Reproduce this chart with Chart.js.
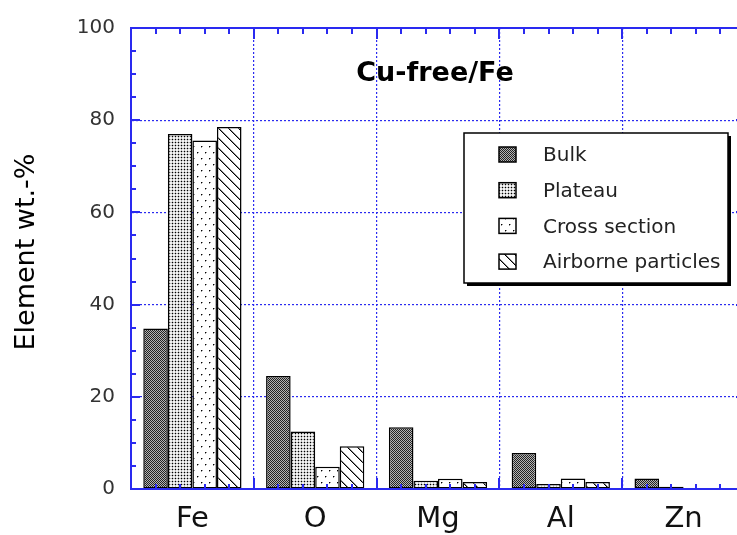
<!DOCTYPE html>
<html>
<head>
<meta charset="utf-8">
<script src="https://cdn.jsdelivr.net/npm/chart.js@4/dist/chart.umd.min.js"></script>
<style>
  html, body { margin: 0; padding: 0; background: #fff; overflow: hidden; }
  #wrap { width: 760px; height: 535px; }
</style>
</head>
<body>
<div id="wrap"><canvas id="c" width="760" height="535"></canvas></div>
<script>
// ---- data ----
const categories = ['Fe', 'O', 'Mg', 'Al', 'Zn'];
const seriesNames = ['Bulk', 'Plateau', 'Cross section', 'Airborne particles'];
const bulk = [34.8, 24.5, 13.4, 7.8, 2.3];
const plateau = [77.0, 12.5, 1.8, 1.1, 0.5];
const crossSection = [75.6, 4.8, 2.2, 2.3, 0];
const airborne = [78.5, 9.3, 1.5, 1.5, 0];
const yMin = 0, yMax = 100, yStep = 20, yMinorStep = 5;
const chartTitle = 'Cu-free/Fe';
const yTitle = 'Element wt.-%';

const BLUE = '#2a2af0';

function makePattern(w, h, draw) {
  const c = document.createElement('canvas');
  c.width = w; c.height = h;
  const g = c.getContext('2d');
  draw(g, w, h);
  return g.createPattern(c, 'repeat');
}
const patBulk = makePattern(2, 2, (g) => {
  g.fillStyle = '#b4b4b4'; g.fillRect(0, 0, 2, 2);
  g.fillStyle = '#222'; g.fillRect(0, 0, 1, 1); g.fillRect(1, 1, 1, 1);
});
const patPlateau = makePattern(3, 3, (g) => {
  g.fillStyle = '#f4f4f4'; g.fillRect(0, 0, 3, 3);
  g.fillStyle = '#bdbdbd';
  g.fillRect(0, 1, 1, 1); g.fillRect(2, 1, 1, 1); g.fillRect(1, 0, 1, 1); g.fillRect(1, 2, 1, 1);
  g.fillStyle = '#000'; g.fillRect(1, 1, 1, 1);
});
const patCross = makePattern(8, 12, (g) => {
  g.fillStyle = '#fff'; g.fillRect(0, 0, 8, 12);
  g.fillStyle = '#000'; g.fillRect(1, 2, 1, 1); g.fillRect(5, 8, 1, 1);
  g.fillStyle = '#999'; g.fillRect(2, 2, 1, 1); g.fillRect(6, 8, 1, 1);
  g.fillRect(1, 3, 1, 1); g.fillRect(5, 9, 1, 1);
});
const patAir = makePattern(10, 10, (g) => {
  g.fillStyle = '#fff'; g.fillRect(0, 0, 10, 10);
  for (let i = 0; i < 10; i++) {
    g.fillStyle = '#000'; g.fillRect(i, i, 1, 1);
    g.fillStyle = '#888'; g.fillRect((i + 1) % 10, i, 1, 1);
  }
});
const patterns = [patBulk, patPlateau, patCross, patAir];
const seriesValues = [bulk, plateau, crossSection, airborne];

const decor = {
  id: 'decor',
  afterDatasetsDraw(chart) {
    const { ctx, chartArea: a, scales: { x, y } } = chart;
    ctx.save();
    ctx.strokeStyle = BLUE;
    ctx.lineWidth = 2;
    ctx.beginPath();
    ctx.rect(a.left, a.top, a.right - a.left, a.bottom - a.top);
    ctx.stroke();
    ctx.beginPath();
    for (let v = yMin; v <= yMax; v += yMinorStep) {
      const py = Math.round(y.getPixelForValue(v));
      const len = (v % yStep === 0) ? 9 : 5;
      ctx.moveTo(a.left, py); ctx.lineTo(a.left + len, py);
      ctx.moveTo(a.right, py); ctx.lineTo(a.right - len, py);
    }
    for (let i = 1; i < categories.length; i++) {
      const px = Math.round((x.getPixelForValue(i - 1) + x.getPixelForValue(i)) / 2);
      ctx.moveTo(px, a.bottom); ctx.lineTo(px, a.bottom - 11);
      ctx.moveTo(px, a.top); ctx.lineTo(px, a.top + 11);
    }
    chart.data.datasets.forEach((ds, di) => {
      chart.getDatasetMeta(di).data.forEach((el) => {
        const px = Math.round(el.x);
        ctx.moveTo(px, a.bottom); ctx.lineTo(px, a.bottom - 5);
        ctx.moveTo(px, a.top); ctx.lineTo(px, a.top + 6);
      });
    });
    ctx.stroke();
    ctx.restore();
  },
  afterDraw(chart) {
    const { ctx } = chart;
    ctx.save();
    // chart title
    ctx.fillStyle = '#000';
    ctx.font = 'bold 27px "DejaVu Sans"';
    ctx.textAlign = 'center';
    ctx.textBaseline = 'middle';
    ctx.fillText(chartTitle, 435, 74);
    // y title
    ctx.save();
    ctx.translate(27, 252);
    ctx.rotate(-Math.PI / 2);
    ctx.font = '27px "DejaVu Sans"';
    ctx.fillText(yTitle, 0, 0);
    ctx.restore();
    // legend
    const bx = 464, by = 133, bw = 264, bh = 150;
    ctx.fillStyle = '#000';
    ctx.fillRect(bx + 3, by + 3, bw, bh);
    ctx.fillStyle = '#fff';
    ctx.fillRect(bx, by, bw, bh);
    ctx.strokeStyle = '#000';
    ctx.lineWidth = 1.5;
    ctx.strokeRect(bx, by, bw, bh);
    ctx.font = '20px "DejaVu Sans"';
    ctx.textAlign = 'left';
    ctx.textBaseline = 'middle';
    seriesNames.forEach((name, i) => {
      const cy = 155 + i * 35.7;
      ctx.fillStyle = patterns[i];
      ctx.fillRect(499, cy - 8, 17, 15);
      ctx.strokeStyle = '#000';
      ctx.lineWidth = 1.5;
      ctx.strokeRect(499, cy - 8, 17, 15);
      ctx.fillStyle = '#222';
      ctx.fillText(name, 543, cy + 1);
    });
    ctx.restore();
  }
};

new Chart(document.getElementById('c'), {
  type: 'bar',
  data: {
    labels: categories,
    datasets: seriesNames.map((name, i) => ({
      label: name,
      data: seriesValues[i],
      backgroundColor: patterns[i],
      borderColor: '#000',
      borderWidth: 1.5,
      borderSkipped: false,
      categoryPercentage: 0.8,
      barPercentage: 1.0
    }))
  },
  options: {
    responsive: false,
    animation: false,
    devicePixelRatio: 1,
    layout: { padding: { top: 26, right: 15, left: 0, bottom: 0 } },
    plugins: { legend: { display: false }, tooltip: { enabled: false }, title: { display: false } },
    scales: {
      x: {
        grid: { color: BLUE, lineWidth: 1.2, drawTicks: false, offset: true },
        border: { display: true, color: BLUE, width: 2, dash: [2, 2] },
        ticks: { color: '#111', font: { family: 'DejaVu Sans', size: 29 }, padding: 13 },
        afterFit(s) { s.height = 46; }
      },
      y: {
        min: yMin, max: yMax,
        grid: { color: BLUE, lineWidth: 1.2, drawTicks: false },
        border: { display: true, color: BLUE, width: 2, dash: [2, 2] },
        ticks: { stepSize: yStep, color: '#333', font: { family: 'DejaVu Sans', size: 20 }, padding: 16 },
        afterFit(s) { s.width = 131; }
      }
    }
  },
  plugins: [decor]
});
</script>
</body>
</html>
